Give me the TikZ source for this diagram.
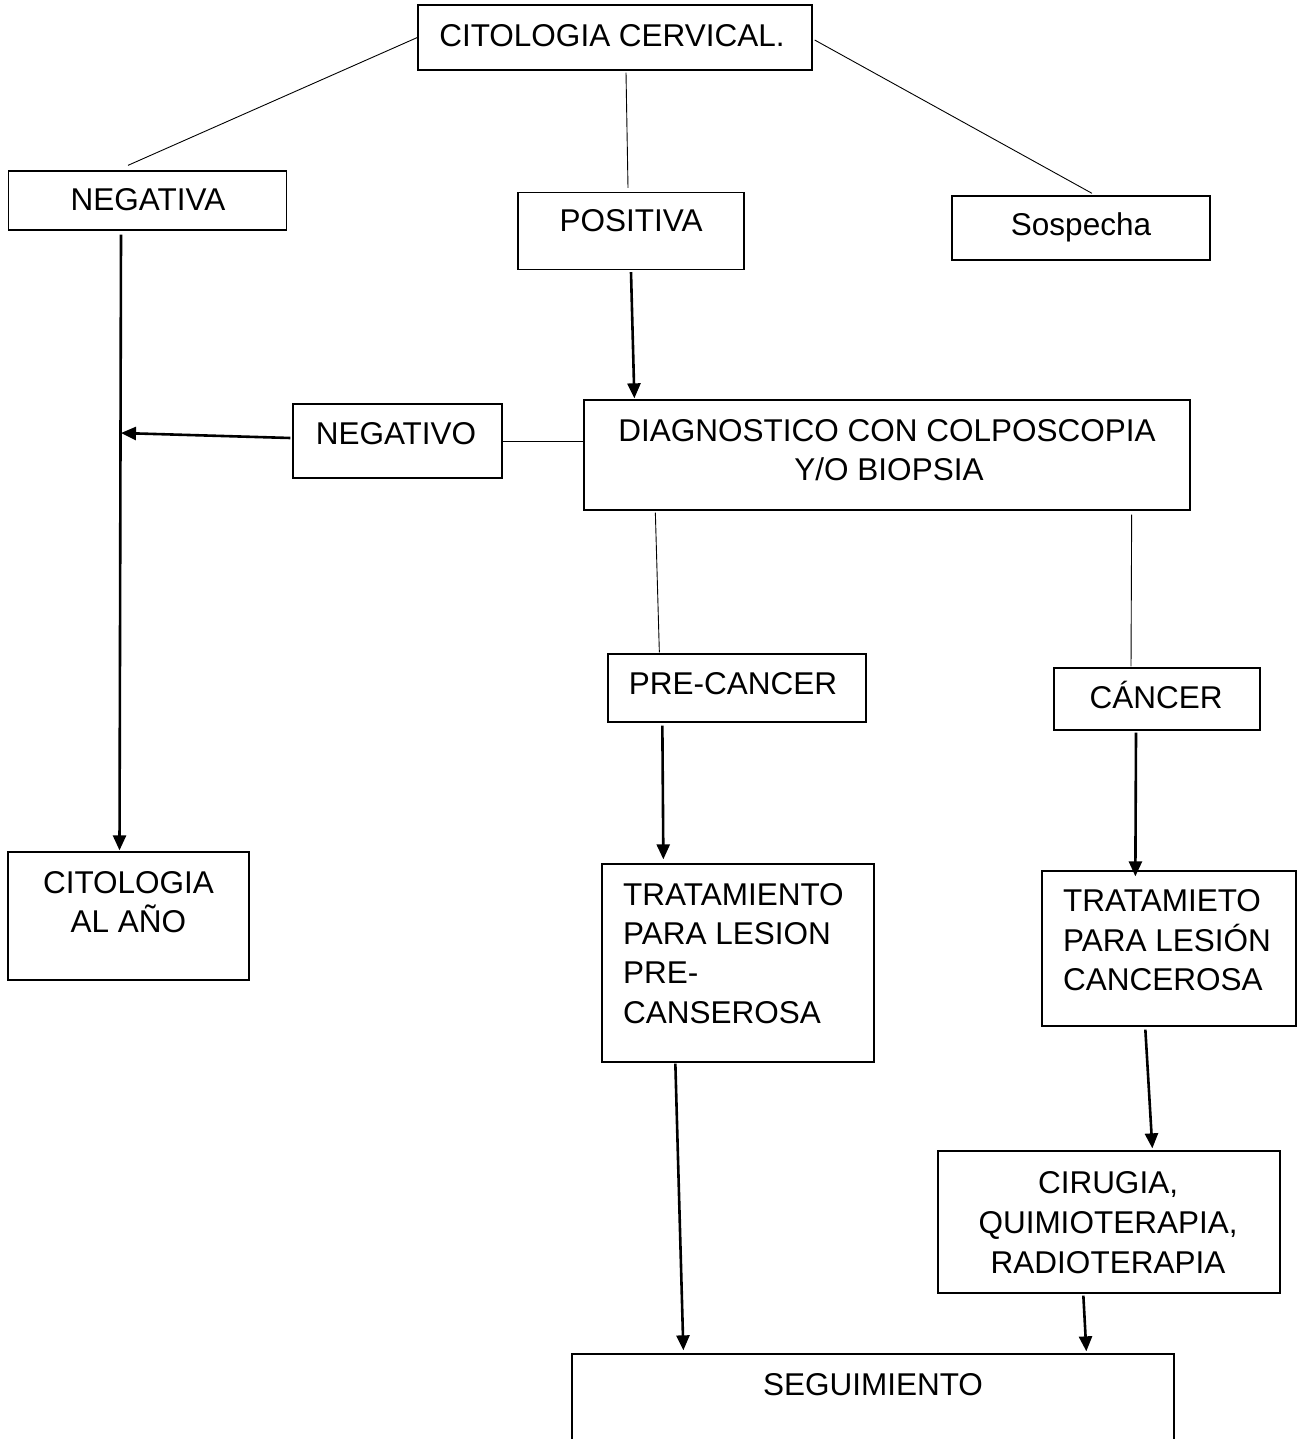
\documentclass[tikz,border=0pt]{standalone}
\usepackage{fontspec}
\setmainfont{Liberation Sans}
\usetikzlibrary{arrows.meta}
\begin{document}
\begin{tikzpicture}[x=1pt,y=-1pt,
  box/.style={draw=black, line width=1.3pt, rectangle, inner sep=0pt},
  txt/.style={inner sep=0pt, anchor=base, font=\fontsize{31.5}{39.3}\selectfont},
  ltxt/.style={txt, anchor=base west},
  link/.style={line width=0.9pt},
  flow/.style={line width=2.6pt, -{Triangle[length=15pt,width=13pt]}}]
\useasboundingbox (0,0) rectangle (1303,1439);

% boxes
\node[box, minimum width=394pt, minimum height=65pt]  (cc)   at (615,37.5)  {};
\node[box, minimum width=278pt, minimum height=59pt]  (neg)  at (147.5,200.5) {};
\node[box, minimum width=226pt, minimum height=77pt]  (pos)  at (631,231)   {};
\node[box, minimum width=258pt, minimum height=64pt]  (sos)  at (1081,228)  {};
\node[box, minimum width=209pt, minimum height=74pt]  (nego) at (397.5,441) {};
\node[box, minimum width=606pt, minimum height=110pt] (diag) at (887,455)   {};
\node[box, minimum width=258pt, minimum height=68pt]  (pre)  at (737,688)   {};
\node[box, minimum width=206pt, minimum height=62pt]  (can)  at (1157,699)  {};
\node[box, minimum width=241pt, minimum height=128pt] (cit)  at (128.5,916) {};
\node[box, minimum width=272pt, minimum height=198pt] (trp)  at (738,963)   {};
\node[box, minimum width=254pt, minimum height=155pt] (trc)  at (1169,948.5) {};
\node[box, minimum width=342pt, minimum height=142pt] (cir)  at (1109,1222)  {};
\node[box, minimum width=602pt, minimum height=130pt] (seg)  at (873,1419)  {};

% texts
\node[txt] (ccT)   at (612,47)   {CITOLOGIA CERVICAL.};
\node[txt] (negT)  at (148,211)  {NEGATIVA};
\node[txt] (posT)  at (631,232)  {POSITIVA};
\node[txt] (sosT)  at (1081,236) {Sospecha};
\node[txt] (negoT) at (396,444)  {NEGATIVO};
\node[txt] (diagA) at (887,441)  {DIAGNOSTICO CON COLPOSCOPIA};
\node[txt] (diagB) at (889,480)  {Y/O BIOPSIA};
\node[txt] (preT)  at (733,694)  {PRE-CANCER};
\node[txt] (canT)  at (1156,708) {CÁNCER};
\node[txt] (citA)  at (128.5,893) {CITOLOGIA};
\node[txt] (citB)  at (128.5,932) {AL AÑO};
\node[ltxt] (trpA) at (623,905)  {TRATAMIENTO};
\node[ltxt] (trpB) at (623,944)  {PARA LESION};
\node[ltxt] (trpC) at (623,983)  {PRE-};
\node[ltxt] (trpD) at (623,1023) {CANSEROSA};
\node[ltxt] (trcA) at (1063,911) {TRATAMIETO};
\node[ltxt] (trcB) at (1063,951) {PARA LESIÓN};
\node[ltxt] (trcC) at (1063,990) {CANCEROSA};
\node[txt] (cirA)  at (1108,1193) {CIRUGIA,};
\node[txt] (cirB)  at (1108,1233) {QUIMIOTERAPIA,};
\node[txt] (cirC)  at (1108,1273) {RADIOTERAPIA};
\node[txt] (segT)  at (873,1395)  {SEGUIMIENTO};

% plain links from the first test and the diagnosis
\draw[link] (cc.west) -- ([shift={(-19.5,-5)}]neg.north);
\draw[link] ([shift={(11,2)}]cc.south) -- ([shift={(-3,-4)}]pos.north);
\draw[link] ([shift={(2,2.5)}]cc.east) -- ([shift={(11,-2)}]sos.north);
\draw[link] (nego.east) -- (nego.east -| diag.west);
\draw[link] ([shift={(72,2)}]diag.south west) -- ([shift={(52,-1)}]pre.north west);
\draw[link] ([shift={(-59,4)}]diag.south east) -- ([shift={(-26,-1)}]can.north);

% arrows
\coordinate (join) at (121,433);
\draw[flow] ([shift={(-26.5,4)}]neg.south) -- ([shift={(-9,-1)}]cit.north);
\draw[flow] ([shift={(0,2)}]pos.south) -- ([shift={(51,-1)}]diag.north west);
\draw[flow] ([shift={(-2,-3)}]nego.west) -- (join);
\draw[flow] ([shift={(55,3)}]pre.south west) -- ([shift={(62,-4)}]trp.north west);
\draw[flow] ([shift={(-21,2)}]can.south) -- ([shift={(94,6)}]trc.north west);
\draw[flow] ([shift={(74,1)}]trp.south west) -- ([shift={(112,-3)}]seg.north west);
\draw[flow] ([shift={(104,3)}]trc.south west) -- ([shift={(215,-2)}]cir.north west);
\draw[flow] ([shift={(146,2)}]cir.south west) -- ([shift={(515,-2)}]seg.north west);
\end{tikzpicture}
\end{document}
